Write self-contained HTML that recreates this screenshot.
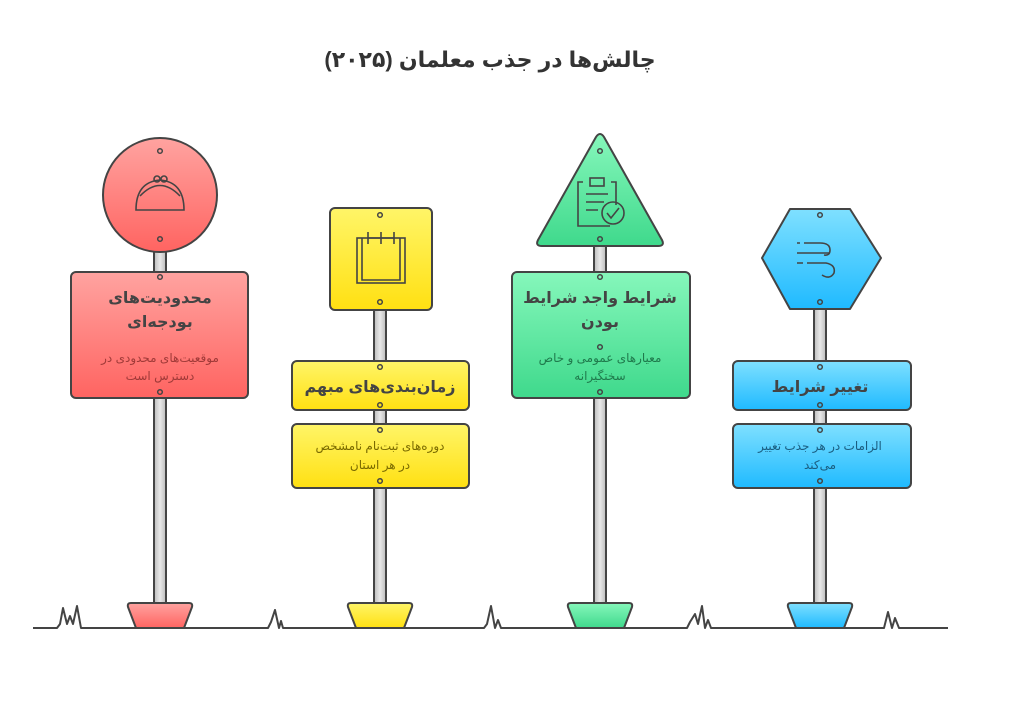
<!DOCTYPE html>
<html><head><meta charset="utf-8"><style>
html,body{margin:0;padding:0;background:#fff;}
svg{display:block;}
text{font-family:"Liberation Sans","DejaVu Sans",sans-serif;direction:rtl;}
</style></head><body>
<svg width="1020" height="725" viewBox="0 0 1020 725" xmlns="http://www.w3.org/2000/svg">
<defs>
<linearGradient id="gr" x1="0" y1="0" x2="0" y2="1"><stop offset="0" stop-color="#ffa3a0"/><stop offset="1" stop-color="#ff6461"/></linearGradient>
<linearGradient id="gy" x1="0" y1="0" x2="0" y2="1"><stop offset="0" stop-color="#fff568"/><stop offset="1" stop-color="#ffe012"/></linearGradient>
<linearGradient id="gg" x1="0" y1="0" x2="0" y2="1"><stop offset="0" stop-color="#86f7bb"/><stop offset="1" stop-color="#3fd98c"/></linearGradient>
<linearGradient id="gb" x1="0" y1="0" x2="0" y2="1"><stop offset="0" stop-color="#7fe0ff"/><stop offset="1" stop-color="#1fbaff"/></linearGradient>
<linearGradient id="pole" x1="0" y1="0" x2="1" y2="0"><stop offset="0" stop-color="#bbb"/><stop offset="0.5" stop-color="#e8e8e8"/><stop offset="1" stop-color="#bbb"/></linearGradient>
</defs>
<text x="490" y="67" text-anchor="middle" font-size="22" font-weight="bold" fill="#333">چالش‌ها در جذب معلمان (۲۰۲۵)</text>

<g stroke="#444" stroke-width="2" fill="none" stroke-linejoin="round">
<path d="M33 628 H57 L60 624 L63 608 L67 624 L70 616 L73 624 L77 606 L81 628 H268 L271 622 L275 610 L279 628 L281 621 L283 628 H484 L487 624 L491 606 L495 628 L498 620 L501 628 H687 L690 622 L695 614 L698 624 L702 606 L705 628 L708 620 L711 628 H884 L888 612 L892 628 L895 618 L899 628 H948"/>
</g>

<!-- poles -->
<g stroke="#444" stroke-width="2" fill="url(#pole)">
<rect x="154" y="245" width="12" height="360"/>
<rect x="374" y="300" width="12" height="305"/>
<rect x="594" y="240" width="12" height="365"/>
<rect x="814" y="300" width="12" height="305"/>
</g>
<!-- bases -->
<g stroke="#444" stroke-width="2" stroke-linejoin="round">
<path d="M131 603 H189 Q193 603 192 607 L184 628 H136 L128 607 Q127 603 131 603Z" fill="url(#gr)"/>
<path d="M351 603 H409 Q413 603 412 607 L404 628 H356 L348 607 Q347 603 351 603Z" fill="url(#gy)"/>
<path d="M571 603 H629 Q633 603 632 607 L624 628 H576 L568 607 Q567 603 571 603Z" fill="url(#gg)"/>
<path d="M791 603 H849 Q853 603 852 607 L844 628 H796 L788 607 Q787 603 791 603Z" fill="url(#gb)"/>
</g>

<!-- red -->
<g stroke="#444" stroke-width="2">
<circle cx="160" cy="195" r="57" fill="url(#gr)"/>
<rect x="71" y="272" width="177" height="126" rx="5" fill="url(#gr)"/>
</g>
<g fill="none" stroke="#444" stroke-width="1.6">
<path d="M136 210 Q136 182 160 180 Q184 182 184 210 Z"/>
<path d="M140 196 Q160 175 180 196"/>
<circle cx="157" cy="179" r="3"/><circle cx="164" cy="179" r="3"/>
</g>
<text x="160" y="303" text-anchor="middle" font-size="16" font-weight="bold" fill="#444">محدودیت‌های</text>
<text x="160" y="327" text-anchor="middle" font-size="16" font-weight="bold" fill="#444">بودجه‌ای</text>
<text x="160" y="362" text-anchor="middle" font-size="12" fill="#a03a38">موقعیت‌های محدودی در</text>
<text x="160" y="380" text-anchor="middle" font-size="12" fill="#a03a38">دسترس است</text>

<!-- yellow -->
<g stroke="#444" stroke-width="2">
<rect x="330" y="208" width="102" height="102" rx="5" fill="url(#gy)"/>
<rect x="292" y="361" width="177" height="49" rx="5" fill="url(#gy)"/>
<rect x="292" y="424" width="177" height="64" rx="5" fill="url(#gy)"/>
</g>
<g fill="none" stroke="#444" stroke-width="1.6">
<rect x="357" y="238" width="48" height="45"/>
<path d="M362 238 V280 H400 V238"/>
<path d="M368 232 V244 M381 232 V244 M394 232 V244 M368 238 H394"/>
</g>
<text x="380" y="392" text-anchor="middle" font-size="16" font-weight="bold" fill="#444">زمان‌بندی‌های مبهم</text>
<text x="380" y="450" text-anchor="middle" font-size="12" fill="#7a6a00">دوره‌های ثبت‌نام نامشخص</text>
<text x="380" y="469" text-anchor="middle" font-size="12" fill="#7a6a00">در هر استان</text>

<!-- green -->
<g stroke="#444" stroke-width="2" stroke-linejoin="round">
<path d="M596 137 Q600 131 604 137 L662 240 Q665 246 658 246 H542 Q535 246 538 240 Z" fill="url(#gg)"/>
<rect x="512" y="272" width="178" height="126" rx="5" fill="url(#gg)"/>
</g>
<g fill="none" stroke="#444" stroke-width="1.6">
<path d="M583 182 H578 V226 H610 M616 205 V182 H611"/>
<rect x="590" y="178" width="14" height="8"/>
<path d="M586 194 H608 M586 202 H604 M586 210 H598"/>
<circle cx="613" cy="213" r="11"/>
<path d="M607 213 L611 218 L619 208"/>
</g>
<text x="600" y="303" text-anchor="middle" font-size="16" font-weight="bold" fill="#444">شرایط واجد شرایط</text>
<text x="600" y="327" text-anchor="middle" font-size="16" font-weight="bold" fill="#444">بودن</text>
<text x="600" y="362" text-anchor="middle" font-size="12" fill="#1f7a4c">معیارهای عمومی و خاص</text>
<text x="600" y="380" text-anchor="middle" font-size="12" fill="#1f7a4c">سختگیرانه</text>

<!-- blue -->
<g stroke="#444" stroke-width="2" stroke-linejoin="round">
<path d="M790 209 H850 L881 258 L850 309 H790 L762 258 Z" fill="url(#gb)"/>
<rect x="733" y="361" width="178" height="49" rx="5" fill="url(#gb)"/>
<rect x="733" y="424" width="178" height="64" rx="5" fill="url(#gb)"/>
</g>
<g fill="none" stroke="#444" stroke-width="1.6">
<path d="M797 243 H800 M804 243 H820 Q830 243 830 250 Q830 256 824 255"/>
<path d="M797 253 H830"/>
<path d="M797 263 H803 M807 263 H826 Q836 265 834 273 Q830 280 822 275"/>
</g>
<text x="820" y="392" text-anchor="middle" font-size="16" font-weight="bold" fill="#444">تغییر شرایط</text>
<text x="820" y="450" text-anchor="middle" font-size="12" fill="#1a5d80">الزامات در هر جذب تغییر</text>
<text x="820" y="469" text-anchor="middle" font-size="12" fill="#1a5d80">می‌کند</text>

<!-- bolts -->
<g fill="none" stroke="#444" stroke-width="1.5">
<circle cx="160" cy="151" r="2.3"/><circle cx="160" cy="239" r="2.3"/><circle cx="160" cy="277" r="2.3"/><circle cx="160" cy="392" r="2.3"/>
<circle cx="380" cy="215" r="2.3"/><circle cx="380" cy="302" r="2.3"/><circle cx="380" cy="367" r="2.3"/><circle cx="380" cy="405" r="2.3"/><circle cx="380" cy="430" r="2.3"/><circle cx="380" cy="481" r="2.3"/>
<circle cx="600" cy="151" r="2.3"/><circle cx="600" cy="239" r="2.3"/><circle cx="600" cy="277" r="2.3"/><circle cx="600" cy="347" r="2.3"/><circle cx="600" cy="392" r="2.3"/>
<circle cx="820" cy="215" r="2.3"/><circle cx="820" cy="302" r="2.3"/><circle cx="820" cy="367" r="2.3"/><circle cx="820" cy="405" r="2.3"/><circle cx="820" cy="430" r="2.3"/><circle cx="820" cy="481" r="2.3"/>
</g>
</svg>
</body></html>
